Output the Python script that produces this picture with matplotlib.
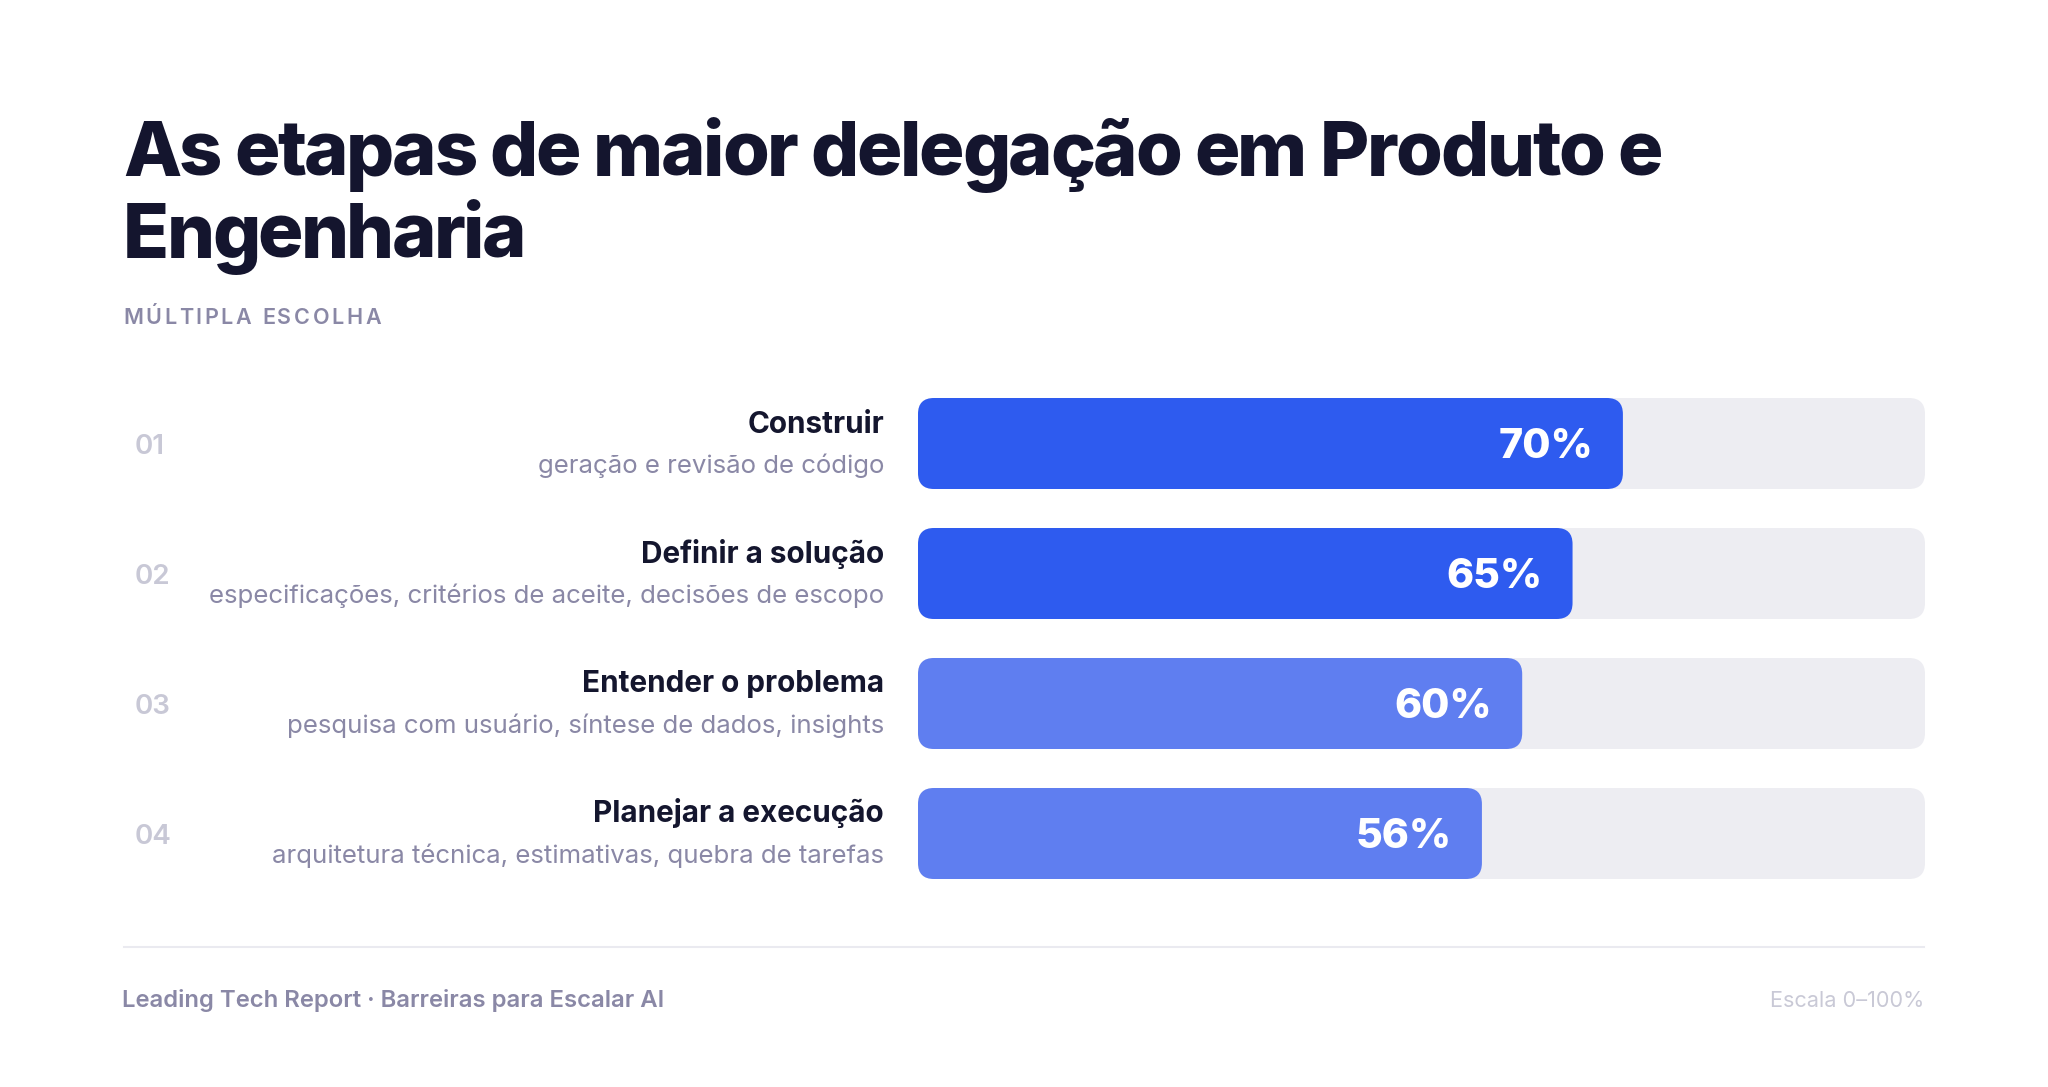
import matplotlib
matplotlib.use("Agg")
import matplotlib.pyplot as plt
from matplotlib.patches import FancyBboxPatch
from matplotlib import transforms
from matplotlib.lines import Line2D

# ---------------- data ----------------
numbers = ["01", "02", "03", "04"]
categories = ["Construir", "Definir a solução", "Entender o problema", "Planejar a execução"]
descriptions = [
    "geração e revisão de código",
    "especificações, critérios de aceite, decisões de escopo",
    "pesquisa com usuário, síntese de dados, insights",
    "arquitetura técnica, estimativas, quebra de tarefas",
]
values = [70, 65, 60, 56]
bar_colors = ["#2E5BEF", "#2E5BEF", "#5F7EF0", "#5F7EF0"]
title_lines = ["As etapas de maior delegação em Produto e", "Engenharia"]
subtitle = "MÚLTIPLA ESCOLHA"
footer_left = "Leading Tech Report · Barreiras para Escalar AI"
footer_right = "Escala 0–100%"
scale_max = 100

# ---------------- figure ----------------
W, H, DPI = 2048, 1087, 100
fig = plt.figure(figsize=(W / DPI, H / DPI), dpi=DPI, facecolor="white")
FONT = ["Inter", "DejaVu Sans"]

ov = fig.add_axes([0, 0, 1, 1])
ov.set_xlim(0, W)
ov.set_ylim(H, 0)
ov.axis("off")

bar_left, bar_right = 918, 1925
row0_center, pitch = 443.5, 130.0
n = len(values)
ax_top = row0_center - pitch / 2
ax_bot = row0_center + pitch * (n - 0.5)
ax = fig.add_axes([bar_left / W, 1 - ax_bot / H, (bar_right - bar_left) / W, (ax_bot - ax_top) / H])
ax.set_xlim(0, scale_max)
ax.set_ylim(n - 0.5, -0.5)
ax.axis("off")

px_per_x = (bar_right - bar_left) / scale_max
aspect = (1 / pitch) / (1 / px_per_x)
bar_h = 91 / pitch
radius = 16 / px_per_x

for i, (v, c) in enumerate(zip(values, bar_colors)):
    ax.add_patch(FancyBboxPatch((0, i - bar_h / 2), scale_max, bar_h,
                                boxstyle=f"round,pad=0,rounding_size={radius}",
                                mutation_aspect=aspect, facecolor="#EDEDF2", edgecolor="none"))
    ax.add_patch(FancyBboxPatch((0, i - bar_h / 2), v, bar_h,
                                boxstyle=f"round,pad=0,rounding_size={radius}",
                                mutation_aspect=aspect, facecolor=c, edgecolor="none"))
    ax.text(v - 30 / px_per_x, i + 14 / pitch, f"{v}%", ha="right", va="baseline",
            fontsize=29.5, fontweight="heavy", color="white", family=FONT)

blend = transforms.blended_transform_factory(ov.transData, ax.transData)
for i in range(n):
    ov.text(135, i + 10 / pitch, numbers[i], transform=blend, ha="left", va="baseline",
            fontsize=20, fontweight="semibold", color="#C8C8D6", family=FONT)
    ov.text(884, i - 11 / pitch, categories[i], transform=blend, ha="right", va="baseline",
            fontsize=21.4, fontweight="bold", color="#14162E", family=FONT)
    ov.text(884, i + 29 / pitch, descriptions[i], transform=blend, ha="right", va="baseline",
            fontsize=18.6, fontweight="normal", color="#8A88A6", family=FONT)

fig.canvas.draw()
renderer = fig.canvas.get_renderer()


def text_width(s, **kw):
    t = ov.text(0, 0, s, **kw)
    w = t.get_window_extent(renderer).width
    t.remove()
    return w


def spaced_text(x0, y, s, target_width=None, track=0.0, **kw):
    ref_w = text_width("H", **kw)
    pos = [text_width(s[:i] + "H", **kw) - ref_w if i > 0 else 0.0 for i in range(len(s))]
    natural = text_width(s, **kw)
    if target_width is not None and len(s) > 1:
        track = (target_width - natural) / (len(s) - 1)
    for i, ch in enumerate(s):
        if ch != " ":
            ov.text(x0 + pos[i] + i * track, y, ch, ha="left", va="baseline", **kw)


title_kw = dict(fontsize=54.5, fontweight="heavy", color="#14152E", family=FONT)
spaced_text(123, 176, title_lines[0], target_width=1663 - 123, **title_kw)
spaced_text(123, 258, title_lines[1], track=-2.6, **title_kw)

spaced_text(123, 324, subtitle, track=2.6, fontsize=15.5, fontweight="semibold",
            color="#8A88A6", family=FONT)

ov.add_line(Line2D([124, 1924], [947, 947], color="#EAEAF0", lw=1.5))
ov.text(122, 1007, footer_left, ha="left", va="baseline", fontsize=17.2,
        fontweight="semibold", color="#8A88A6", family=FONT)
ov.text(1924, 1007, footer_right, ha="right", va="baseline", fontsize=15.6,
        fontweight="normal", color="#C9C9D6", family=FONT)

fig.savefig("out.png", dpi=DPI, facecolor="white")
